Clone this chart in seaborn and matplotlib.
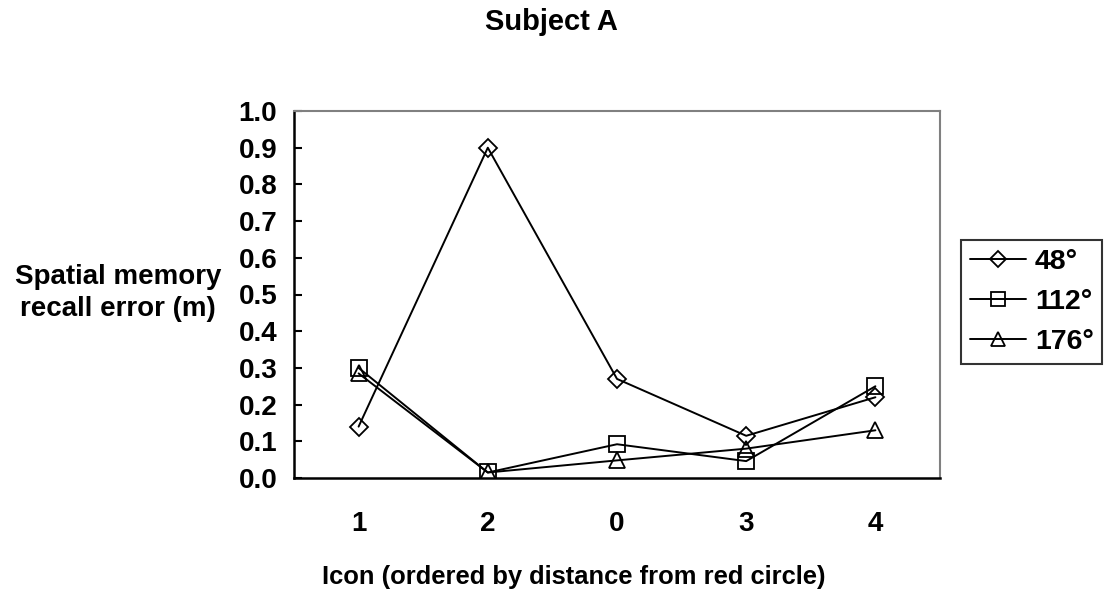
import numpy as np
import pandas as pd
import seaborn as sns
import matplotlib.pyplot as plt

# icons in the order shown on the x axis
icons = ["1", "2", "0", "3", "4"]
angles = ["48°", "112°", "176°"]
err_48 = [0.14, 0.90, 0.27, 0.115, 0.22]
err_112 = [0.30, 0.015, 0.092, 0.046, 0.25]
err_176 = [0.285, 0.015, 0.048, 0.08, 0.13]

df = pd.DataFrame({
    "icon": icons * 3,
    "angle": [angles[0]] * 5 + [angles[1]] * 5 + [angles[2]] * 5,
    "error": err_48 + err_112 + err_176,
})

sns.set_theme(style="white")
plt.rcParams["font.family"] = ["Liberation Sans", "DejaVu Sans"]
plt.rcParams["font.weight"] = "bold"
plt.rcParams["text.color"] = "black"
plt.rcParams["xtick.color"] = "black"
plt.rcParams["ytick.color"] = "black"

fig = plt.figure(figsize=(11.07, 5.94), dpi=100)
ax = fig.add_axes([294 / 1107, 1 - 478 / 594, (940 - 294) / 1107, (478 - 111) / 594])

sns.pointplot(data=df, x="icon", y="error", hue="angle", order=icons,
              hue_order=angles, palette=["black"] * 3, markers=["D", "s", "^"],
              linestyles="-", errorbar=None, ax=ax, legend=False)

sizes = [9.5, 11.5, 11.5]
for line, ms in zip(ax.lines, sizes):
    line.set_color("black")
    line.set_linewidth(1.4)
    line.set_markersize(ms)
    line.set_markerfacecolor("none")
    line.set_markeredgecolor("black")
    line.set_markeredgewidth(1.3)

ax.set_xlim(-0.5, 4.5)
ax.set_ylim(0, 1.0)
ax.set_yticks(np.arange(0, 1.01, 0.1))
ax.set_yticklabels([f"{v:.1f}" for v in np.arange(0, 1.01, 0.1)])
ax.set_xticks(range(len(icons)))
ax.set_xticklabels(icons)
ax.set_xticks(np.arange(-0.5, 4.6, 1), minor=True)
ax.tick_params(axis="x", which="major", length=0, pad=24, labelsize=20)
ax.tick_params(axis="x", which="minor", direction="in", length=6, width=1.5, color="black")
ax.tick_params(axis="y", direction="in", length=6, width=1.5, color="black",
               left=True, pad=12, labelsize=20)
for lab in ax.get_xticklabels() + ax.get_yticklabels():
    lab.set_fontweight("bold")

for side in ["left", "bottom"]:
    ax.spines[side].set_color("black")
    ax.spines[side].set_linewidth(1.8)
for side in ["top", "right"]:
    ax.spines[side].set_color("#808080")
    ax.spines[side].set_linewidth(1.5)

ax.set_xlabel("")
ax.set_ylabel("")
fig.text(118 / 1107, 1 - 293 / 594, "Spatial memory\nrecall error (m)", ha="center",
         va="center", fontsize=20, fontweight="bold", linespacing=1.35)
fig.text(574 / 1107, 1 - 577 / 594, "Icon (ordered by distance from red circle)",
         ha="center", va="center", fontsize=18.4, fontweight="bold")
fig.text(551 / 1107, 1 - 22 / 594, "Subject A", ha="center", va="center",
         fontsize=21, fontweight="bold")

leg = fig.legend(handles=ax.lines[:3], labels=angles, loc="center left",
                 bbox_to_anchor=(961 / 1107, 1 - 302 / 594), frameon=True,
                 fancybox=False, edgecolor="black", fontsize=20.5, handlelength=2.0,
                 handletextpad=0.3, labelspacing=0.5, borderpad=0.3,
                 borderaxespad=0)
leg.get_frame().set_linewidth(1.5)
for t in leg.get_texts():
    t.set_fontweight("bold")
for h, ms in zip(leg.legend_handles, [8.0, 9.5, 10.0]):
    h.set_markersize(ms)

fig.savefig("out.png", dpi=100)
